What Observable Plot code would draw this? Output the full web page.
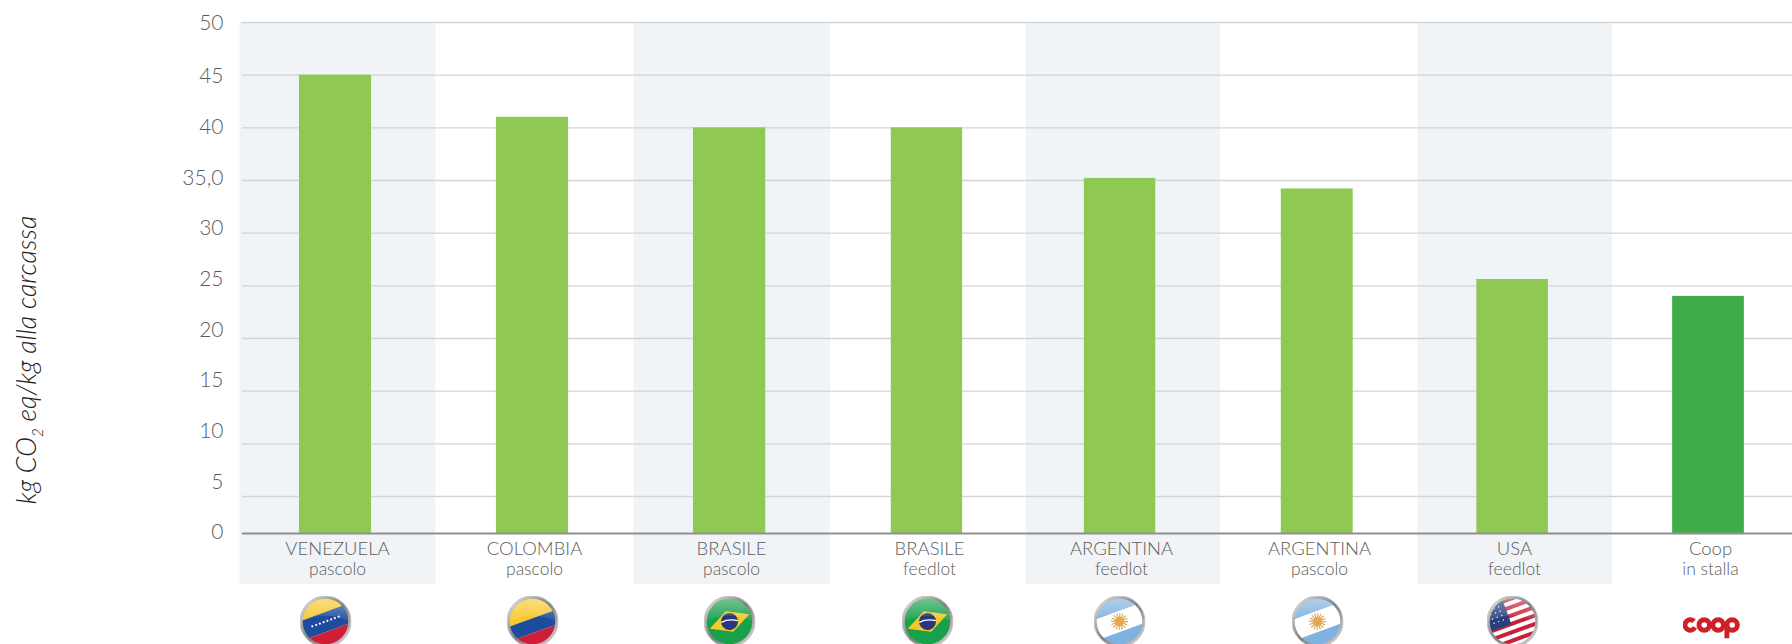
<!DOCTYPE html>
<html lang="it">
<head>
<meta charset="utf-8">
<title>Impronta di carbonio della carne bovina</title>
<script src="https://cdn.jsdelivr.net/npm/d3@7"></script>
<script src="https://cdn.jsdelivr.net/npm/@observablehq/plot@0.6"></script>
<style>
  html, body { margin: 0; padding: 0; background: #fff; }
  svg { display: block; }
</style>
</head>
<body>
<div id="chart"></div>
<script>
// Emissioni per kg di carcassa, per origine e sistema di allevamento
const origins = ["VENEZUELA", "COLOMBIA", "BRASILE", "BRASILE", "ARGENTINA", "ARGENTINA", "USA", "Coop"];
const systems = ["pascolo", "pascolo", "pascolo", "feedlot", "feedlot", "pascolo", "feedlot", "in stalla"];
const emissions = [45, 41, 40, 40, 35.2, 34.2, 25.6, 24];
const badges = ["ve", "co", "br", "br", "ar", "ar", "us", "coop"];

const gridValues = [0, 5, 10, 15, 20, 25, 30, 35, 40, 45, 50];
const tickLabels = ["0", "5", "10", "15", "20", "25", "30", "35,0", "40", "45", "50"];

const rows = origins.map((origin, i) => ({
  i, origin, system: systems[i], value: emissions[i], badge: badges[i]
}));
const shaded = rows.filter((d) => d.i % 2 === 0);

// Round glossy badge: slanted flag artwork inside a silver ring
const ring = (art) => `<svg xmlns="http://www.w3.org/2000/svg" viewBox="0 0 52 52" width="52" height="52">
<defs>
<clipPath id="c"><circle cx="26" cy="26" r="23.5"/></clipPath>
<linearGradient id="r" x1="0" y1="0" x2="1" y2="1"><stop offset="0" stop-color="#e6e6e6"/><stop offset=".5" stop-color="#7d7d7d"/><stop offset="1" stop-color="#d8d8d8"/></linearGradient>
<linearGradient id="g" x1="0" y1="0" x2="0" y2="1"><stop offset="0" stop-color="#fff" stop-opacity=".38"/><stop offset="1" stop-color="#fff" stop-opacity=".05"/></linearGradient>
</defs>
<g clip-path="url(#c)">${art}</g>
<path d="M3 26 A23 23 0 0 1 49 26 Q26 14 3 26Z" fill="url(#g)" clip-path="url(#c)"/>
<circle cx="26" cy="26" r="24" fill="none" stroke="url(#r)" stroke-width="2.4"/>
<circle cx="26" cy="26" r="25.6" fill="none" stroke="#aaa" stroke-width=".7"/>
</svg>`;

const slant = (inner) => `<g transform="rotate(-20 26 26)">${inner}</g>`;
const band = (y, h, fill) => `<rect x="-14" y="${y}" width="80" height="${h}" fill="${fill}"/>`;

const stars = d3.range(8).map((k) =>
  `<circle cx="${12 + k * 4}" cy="26" r="1.1" fill="#fff"/>`).join("");
const sunRays = d3.range(16).map((k) =>
  `<line x1="26" y1="26" x2="26" y2="17.5" stroke="#e0a040" stroke-width="1.1" transform="rotate(${k * 22.5} 26 26)"/>`).join("");
const usStripes = d3.range(0, 7).map((k) =>
  band(2 + k * 8, 4, "#c9203a")).join("");
const usStars = d3.range(5).flatMap((a) => d3.range(5).map((b) =>
  `<circle cx="${-2 + b * 5}" cy="${3 + a * 4.6}" r=".7" fill="#fff"/>`)).join("");

const artwork = {
  ve: slant(band(-14, 31, "#f6c92c") + band(17, 19, "#1d4c9c") + band(36, 30, "#cf1f38") + stars),
  co: slant(band(-14, 37, "#f6c92c") + band(23, 14, "#1d4c9c") + band(37, 30, "#cf1f38")),
  br: `<rect width="52" height="52" fill="#18a04a"/>` + slant(`<path d="M5 26 L26 15 L47 26 L26 37Z" fill="#f3c92a"/><circle cx="26" cy="26" r="8.5" fill="#27367f"/><path d="M18 24 Q26 23 34 28" stroke="#fff" stroke-width="1.2" fill="none"/>`),
  ar: slant(band(-14, 30, "#7fb2e0") + band(16, 20, "#fff") + band(36, 30, "#7fb2e0") + sunRays + `<circle cx="26" cy="26" r="4.6" fill="#e8a847"/>`),
  us: slant(`<rect x="-14" y="-14" width="80" height="80" fill="#fff"/>` + usStripes + `<rect x="-14" y="-14" width="38" height="42" fill="#2a3f7e"/>` + usStars)
};

// Four interlocking red rings, the last with a descender
const coopLogo = `<svg xmlns="http://www.w3.org/2000/svg" viewBox="0 0 52 52" width="52" height="52">
<g fill="none" stroke="#d02027" stroke-width="4.4">
<circle cx="7" cy="25" r="4.7" stroke-dasharray="23 6.5" transform="rotate(28 7 25)"/>
<circle cx="19.5" cy="25" r="4.7"/>
<circle cx="32" cy="25" r="4.7"/>
<circle cx="44.5" cy="25" r="4.7"/>
<path d="M39.8 25 V37"/>
</g></svg>`;

const dataUri = (svg) => "data:image/svg+xml;utf8," + encodeURIComponent(svg);
const badgeSrc = (d) => dataUri(d.badge === "coop" ? coopLogo : ring(artwork[d.badge]));

// Tick text sits on its own evenly stepped ladder beside the compressed first interval
const labelPosition = d3.scaleLinear([0, 5, 40, 45, 50], [531.5, 481.5, 126.7, 76, 22.7]);
const textColor = "#5c5c5c";

const plot = Plot.plot({
  width: 1792,
  height: 644,
  marginTop: 22,
  marginBottom: 111,
  marginLeft: 240,
  marginRight: 0,
  style: { fontFamily: "Lato, sans-serif", background: "#fff", overflow: "hidden" },
  x: { type: "linear", domain: d3.range(8), range: [335, 532, 729, 927, 1119, 1317, 1512, 1708], axis: null },
  y: { type: "linear", domain: [0, 5, 50], range: [533, 496, 22], axis: null },
  marks: [
    // Alternating pale columns, running below the baseline behind the labels
    Plot.rect(shaded, {
      x1: (d) => d.i - 0.485, x2: (d) => d.i + 0.51,
      y1: 0, y2: 50, insetBottom: -51, fill: "#f0f4f7"
    }),
    Plot.ruleY(gridValues.filter((v) => v > 0), {
      x1: -0.472, x2: 7.43, stroke: "#d2d5d7", strokeWidth: 1.4
    }),
    Plot.rect(rows, {
      x1: (d) => d.i - 0.183, x2: (d) => d.i + 0.183,
      y1: 0, y2: "value",
      fill: (d) => d.origin === "Coop" ? "#3fae49" : "#8fc852"
    }),
    Plot.ruleY([0], { x1: -0.472, x2: 7.43, stroke: "#8f8f8f", strokeWidth: 2 }),
    Plot.text(gridValues, {
      y: { value: (v) => labelPosition(v), scale: null },
      text: (v, k) => tickLabels[k],
      frameAnchor: "left", textAnchor: "end", dx: -17,
      fontSize: 21, fontWeight: 300, fill: textColor
    }),
    Plot.text(rows, {
      x: "i", text: "origin", frameAnchor: "bottom", dx: 2, dy: 21,
      fontSize: 18.5, fontWeight: 300, fill: textColor
    }),
    Plot.text(rows, {
      x: "i", text: "system", frameAnchor: "bottom", dx: 2, dy: 41,
      fontSize: 17.5, fontWeight: 300, fill: textColor
    }),
    Plot.image(rows.filter((d) => d.i === 0), {
      x: "i", src: badgeSrc, width: 52, height: 52,
      frameAnchor: "bottom", dy: 88, dx: -10
    }),
    Plot.image(rows.filter((d) => d.i > 0 && d.badge !== "coop"), {
      x: "i", src: badgeSrc, width: 52, height: 52,
      frameAnchor: "bottom", dy: 88
    }),
    Plot.image(rows.filter((d) => d.badge === "coop"), {
      x: "i", src: badgeSrc, width: 58, height: 58,
      frameAnchor: "bottom", dy: 92.6, dx: 3
    })
  ]
});

// Rotated measure title with a subscript in CO2
const svg = d3.select(plot);
svg.append("text")
  .attr("transform", "translate(36,360) rotate(-90)")
  .attr("text-anchor", "middle")
  .attr("fill", "#222")
  .attr("font-family", "Lato, sans-serif")
  .attr("font-size", 26.8)
  .attr("font-weight", 300)
  .attr("font-style", "italic")
  .html('kg CO<tspan dy="7" font-size="15">2</tspan><tspan dy="-7"> eq/kg alla carcassa</tspan>');

document.getElementById("chart").appendChild(plot);
</script>
</body>
</html>
